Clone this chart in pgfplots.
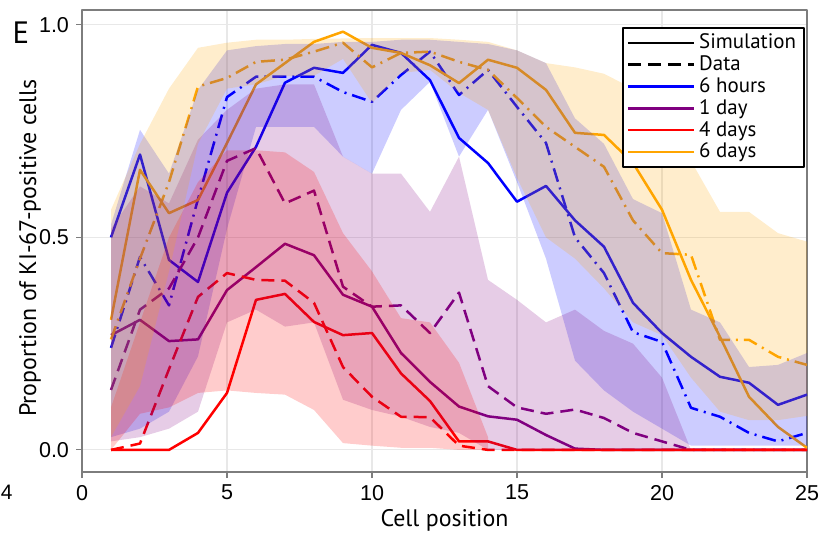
\documentclass[border=0pt]{standalone}
\usepackage{fontspec}
\setmainfont{Liberation Sans}
\newfontfamily\labfont{PT Sans}
\usepackage{pgfplots}
\usepackage{pgfplotstable}
\pgfplotsset{compat=1.18}
\definecolor{cblue}{RGB}{0,0,255}
\definecolor{cpurple}{RGB}{128,0,128}
\definecolor{cred}{RGB}{255,0,0}
\definecolor{corange}{RGB}{255,165,0}
\definecolor{axgray}{RGB}{125,125,125}
\definecolor{gridgray}{RGB}{232,232,232}

% x  bs(6h sim) bd(6h data) ps(1d sim) pd(1d data) rs(4d sim) rd(4d data) os(6d sim) od(6d data)
\pgfplotstableread{
x  bs    bd    ps    pd    rs    rd    os    od
1  0.500 0.240 0.270 0.141 0.000 0.000 0.306 0.260
2  0.695 0.454 0.306 0.330 0.000 0.015 0.659 0.450
3  0.447 0.340 0.256 0.380 0.000 0.190 0.557 0.630
4  0.395 0.590 0.260 0.500 0.040 0.360 0.588 0.855
5  0.605 0.830 0.376 0.680 0.134 0.416 0.722 0.875
6  0.713 0.878 0.430 0.710 0.353 0.400 0.860 0.913
7  0.864 0.878 0.485 0.580 0.367 0.398 0.910 0.918
8  0.899 0.878 0.458 0.610 0.301 0.346 0.960 0.937
9  0.887 0.842 0.365 0.384 0.270 0.195 0.984 0.958
10 0.953 0.819 0.337 0.337 0.275 0.125 0.946 0.900
11 0.934 0.882 0.228 0.340 0.180 0.078 0.934 0.934
12 0.870 0.937 0.160 0.275 0.115 0.077 0.905 0.937
13 0.734 0.835 0.102 0.370 0.020 0.010 0.863 0.913
14 0.675 0.894 0.079 0.150 0.020 0.000 0.918 0.894
15 0.584 0.807 0.071 0.100 0.000 0.000 0.899 0.828
16 0.621 0.722 0.035 0.085 0.000 0.000 0.847 0.760
17 0.540 0.500 0.003 0.095 0.000 0.000 0.746 0.713
18 0.478 0.416 0.000 0.075 0.000 0.000 0.741 0.666
19 0.346 0.277 0.000 0.040 0.000 0.000 0.675 0.540
20 0.275 0.254 0.000 0.020 0.000 0.000 0.565 0.463
21 0.219 0.099 0.000 0.000 0.000 0.000 0.400 0.459
22 0.172 0.078 0.000 0.000 0.000 0.000 0.266 0.259
23 0.158 0.040 0.000 0.000 0.000 0.000 0.125 0.259
24 0.106 0.020 0.000 0.000 0.000 0.000 0.054 0.219
25 0.130 0.040 0.000 0.000 0.000 0.000 0.005 0.200
}\lines

\begin{document}
\begin{tikzpicture}
\useasboundingbox (0,0) rectangle (409.5bp,267.5bp);
\node[font=\labfont\fontsize{15.5}{16}\selectfont, anchor=center] at (10.5bp,251bp) {E};
\node[font=\fontsize{10.5}{12}\selectfont, anchor=west, inner sep=0pt] at (0.3bp,21.5bp) {4};
\begin{axis}[
  at={(41bp,31.5bp)}, anchor=south west,
  scale only axis, width=362.5bp, height=231bp,
  xmin=0, xmax=25, ymin=-0.052, ymax=1.035,
  xtick={0,5,10,15,20,25},
  ytick={0,0.5,1}, yticklabels={0.0,0.5,1.0},
  grid=major, major grid style={gridgray, line width=0.6bp},
  axis line style={axgray, line width=0.7bp},
  tick style={axgray, line width=0.6bp},
  tick align=outside, tick pos=left, major tick length=3bp,
  tick label style={font=\fontsize{10.8}{12}\selectfont},
  /pgf/number format/assume math mode=true,
  label style={font=\labfont\fontsize{12}{14}\selectfont},
  xlabel={Cell position}, ylabel={Proportion of KI-67-positive cells},
  xlabel style={at={(axis description cs:0.5,-0.104)}, anchor=center},
  ylabel style={at={(axis description cs:-0.0717,0.485)}, anchor=center},
  legend style={at={(rel axis cs:0.997,0.963)}, anchor=north east,
    draw=black, line width=0.8bp, fill=white,
    font=\labfont\fontsize{10.5}{11}\selectfont,
    inner xsep=2bp, inner ysep=1bp, row sep=-2bp},
  legend cell align=left,
  legend image code/.code={\draw[#1] (0bp,0bp) -- (33bp,0bp);},
  line join=round,
]
\addlegendimage{black, line width=1.25bp}
\addlegendentry{Simulation}
\addlegendimage{black, line width=1.25bp, dash pattern=on 6.5bp off 3.5bp}
\addlegendentry{Data}
\addlegendimage{cblue, line width=1.25bp}
\addlegendentry{6 hours}
\addlegendimage{cpurple, line width=1.25bp}
\addlegendentry{1 day}
\addlegendimage{cred, line width=1.25bp}
\addlegendentry{4 days}
\addlegendimage{corange, line width=1.25bp}
\addlegendentry{6 days}

% lines
\addplot[forget plot, cblue, line width=1.25bp] table[x=x,y=bs] {\lines};
\addplot[forget plot, cblue, line width=1.25bp, dash pattern=on 7bp off 3bp on 1bp off 3bp] table[x=x,y=bd] {\lines};
\addplot[forget plot, cpurple, line width=1.25bp] table[x=x,y=ps] {\lines};
\addplot[forget plot, cpurple, line width=1.25bp, dash pattern=on 6.5bp off 3.5bp] table[x=x,y=pd] {\lines};
\addplot[forget plot, cred, line width=1.25bp] table[x=x,y=rs] {\lines};
\addplot[forget plot, cred, line width=1.25bp, dash pattern=on 6.5bp off 3.5bp] table[x=x,y=rd] {\lines};
\addplot[forget plot, corange, line width=1.25bp] table[x=x,y=os] {\lines};
\addplot[forget plot, corange, line width=1.25bp, dash pattern=on 7bp off 3bp on 1bp off 3bp] table[x=x,y=od] {\lines};

% bands (6 hours, 1 day, 4 days, 6 days)
\addplot[forget plot, draw=none, fill=cblue, fill opacity=0.2] coordinates {
(1,.53)(2,.753)(3,.65)(4,.847)(5,.94)(6,.95)(7,.955)(8,.955)(9,.96)(10,.96)(11,.965)(12,.965)(13,.96)(14,.955)(15,.94)(16,.91)(17,.78)(18,.72)(19,.59)(20,.557)(21,.33)(22,.30)(23,.195)(24,.20)(25,.228)
(25,.01)(24,.01)(23,.01)(22,.01)(21,.01)(20,.05)(19,.09)(18,.14)(17,.21)(16,.45)(15,.63)(14,.80)(13,.69)(12,.866)(11,.80)(10,.65)(9,.69)(8,.76)(7,.76)(6,.76)(5,.52)(4,.22)(3,.09)(2,.05)(1,.03)};
\addplot[forget plot, draw=none, fill=cpurple, fill opacity=0.2] coordinates {
(1,.52)(2,.62)(3,.58)(4,.73)(5,.80)(6,.85)(7,.86)(8,.86)(9,.69)(10,.65)(11,.65)(12,.56)(13,.69)(14,.40)(15,.353)(16,.30)(17,.33)(18,.28)(19,.25)(20,.17)(21,0)
(20,0)(19,0)(18,0)(17,0)(16,0)(15,0)(14,0)(13,.04)(12,.054)(11,.078)(10,.094)(9,.118)(8,.30)(7,.29)(6,.33)(5,.30)(4,.09)(3,.05)(2,.03)(1,.02)};
\addplot[forget plot, draw=none, fill=cred, fill opacity=0.2] coordinates {
(1,.10)(2,.30)(3,.50)(4,.63)(5,.705)(6,.705)(7,.70)(8,.654)(9,.51)(10,.42)(11,.31)(12,.30)(13,.205)(14,.03)
(14,0)(13,0)(12,.005)(11,.005)(10,.01)(9,.016)(8,.094)(7,.13)(6,.134)(5,.14)(4,.134)(3,.10)(2,.085)(1,0)};
\addplot[forget plot, draw=none, fill=corange, fill opacity=0.2] coordinates {
(1,.565)(2,.72)(3,.85)(4,.946)(5,.958)(6,.965)(7,.965)(8,.967)(9,.968)(10,.969)(11,.969)(12,.969)(13,.965)(14,.96)(15,.94)(16,.91)(17,.90)(18,.885)(19,.85)(20,.78)(21,.68)(22,.56)(23,.56)(24,.51)(25,.49)
(25,.08)(24,.07)(23,.07)(22,.09)(21,.17)(20,.27)(19,.30)(18,.38)(17,.45)(16,.50)(15,.64)(14,.80)(13,.84)(12,.894)(11,.887)(10,.816)(9,.92)(8,.88)(7,.88)(6,.86)(5,.85)(4,.72)(3,.42)(2,.15)(1,.03)};
\end{axis}
\end{tikzpicture}
\end{document}
